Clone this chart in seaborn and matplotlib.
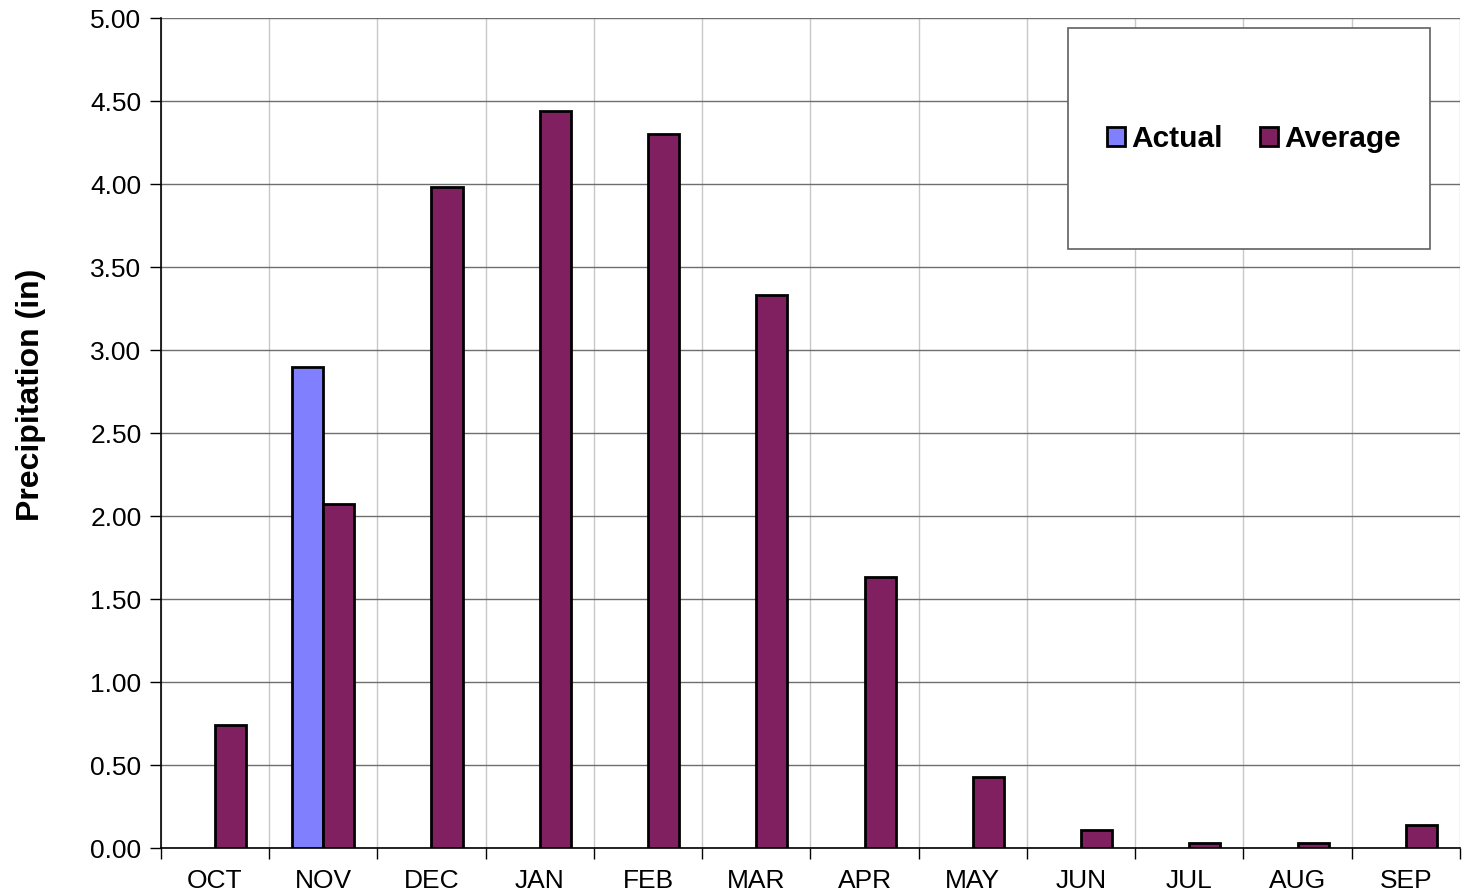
import numpy as np
import pandas as pd
import matplotlib
matplotlib.use("Agg")
import matplotlib.pyplot as plt
from matplotlib.patches import Patch, Rectangle
from matplotlib.ticker import FixedLocator
import seaborn as sns

# data
months = ["OCT", "NOV", "DEC", "JAN", "FEB", "MAR", "APR", "MAY", "JUN", "JUL", "AUG", "SEP"]
actual = [np.nan, 2.90, np.nan, np.nan, np.nan, np.nan, np.nan, np.nan, np.nan, np.nan, np.nan, np.nan]
average = [0.74, 2.07, 3.98, 4.44, 4.30, 3.33, 1.63, 0.43, 0.11, 0.03, 0.03, 0.14]
series = ["Actual", "Average"]
colors = {"Actual": "#8080FF", "Average": "#802060"}

df = pd.DataFrame({
    "month": months * 2,
    "series": ["Actual"] * len(months) + ["Average"] * len(months),
    "value": actual + average,
})

sns.set_style("white")
plt.rcParams["font.family"] = ["Liberation Sans", "DejaVu Sans"]
plt.rcParams["text.color"] = "black"
plt.rcParams["axes.labelcolor"] = "black"
plt.rcParams["xtick.color"] = "black"
plt.rcParams["ytick.color"] = "black"

fig = plt.figure(figsize=(14.62, 8.92), dpi=100)
ax = fig.add_axes([0.110, 0.0493, 0.8886, 0.9305])

sns.barplot(data=df, x="month", y="value", hue="series", order=months,
            hue_order=series, palette=colors, saturation=1, width=0.575, dodge=True,
            edgecolor="black", linewidth=2.0, legend=False, ax=ax, zorder=3)

ax.set_xlim(-0.5, len(months) - 0.5)
ax.set_ylim(0, 5)
ax.set_yticks(np.arange(0, 5.01, 0.5))
ax.set_yticklabels([f"{v:.2f}" for v in np.arange(0, 5.01, 0.5)])
ax.yaxis.grid(True, color="#6E6E6E", linewidth=1.0, zorder=0)
ax.set_axisbelow(True)

# category boundary ticks and light vertical grid
bounds = np.arange(-0.5, len(months), 1.0)
ax.xaxis.set_minor_locator(FixedLocator(bounds))
ax.xaxis.grid(True, which="minor", color="#C8C8C8", linewidth=1.0)
ax.xaxis.grid(False, which="major")
ax.tick_params(axis="x", which="major", length=0, labelsize=19, pad=15)
ax.tick_params(axis="x", which="minor", length=8, width=1, color="black", direction="out", bottom=True)
ax.tick_params(axis="y", length=8, width=1, color="black", direction="out", left=True, labelsize=19, pad=6)

for s in ["top", "right"]:
    ax.spines[s].set_visible(False)
for s in ["left", "bottom"]:
    ax.spines[s].set_color("black")
    ax.spines[s].set_linewidth(1.2)

ax.set_xlabel("")
ax.set_ylabel("Precipitation (in)", fontsize=23, fontweight="bold")
ax.yaxis.set_label_coords(-0.0885, 0.546)

# legend box
ax.add_patch(Rectangle((0.698, 0.7217), 0.279, 0.266, transform=ax.transAxes,
                       facecolor="white", edgecolor="#606060", linewidth=1.2, zorder=5))
handles = [Patch(facecolor=colors[s], edgecolor="black", linewidth=2.0, label=s) for s in series]
leg = ax.legend(handles=handles, loc="center", bbox_to_anchor=(0.8413, 0.854), ncol=2,
                frameon=False, prop={"size": 21.5, "weight": "bold"},
                handlelength=0.6, handleheight=0.6, handletextpad=0.2, columnspacing=1.27)
leg.set_zorder(6)

fig.savefig("out.png", dpi=100)
